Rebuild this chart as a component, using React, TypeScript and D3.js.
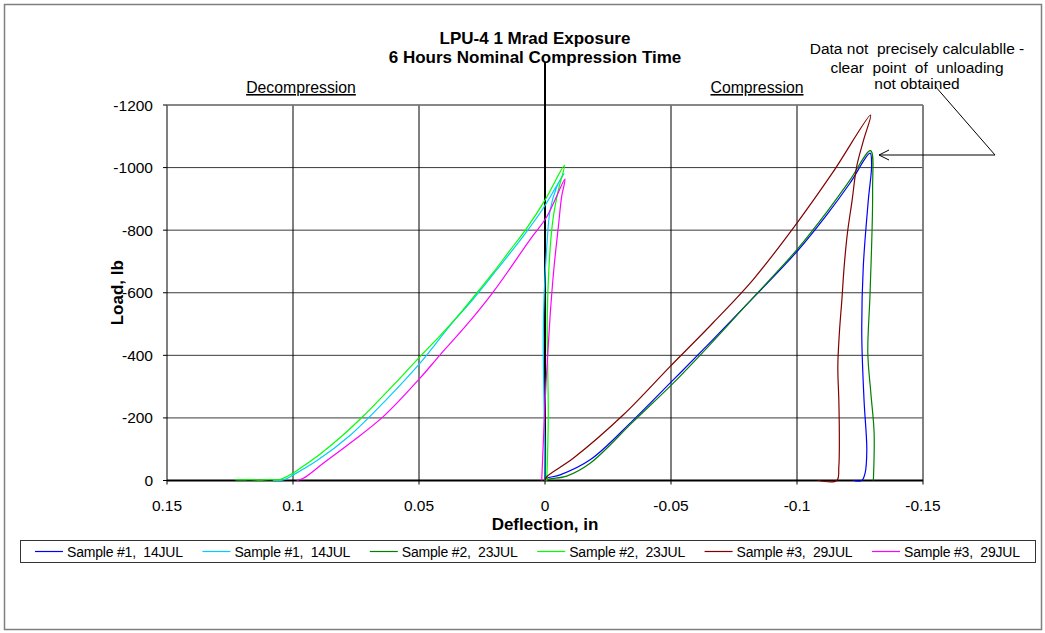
import React from "react";
import * as d3 from "d3";

type Pt = [number, number];

// Deflection (in) vs load (lb) for each test run
const sample1Comp: Pt[] = [
  [0, 0], [-0.0007, -7], [-0.006, -18], [-0.0179, -66], [-0.035, -193], [-0.0496, -311],
  [-0.0642, -430], [-0.08, -562], [-0.0999, -731], [-0.1118, -849], [-0.121, -950], [-0.129, -1046],
  [-0.1296, -1008], [-0.1283, -896], [-0.1263, -683], [-0.1257, -470], [-0.1266, -257],
  [-0.1277, -97], [-0.127, -23], [-0.1257, 0], [-0.1222, 0],
];
const sample1Decomp: Pt[] = [
  [0, 0], [0.0003, -200], [0.0007, -450], [0.0003, -600], [-0.0007, -745], [-0.002, -862],
  [-0.0046, -937], [-0.0075, -981], [0.0007, -870], [0.0086, -781], [0.0192, -673], [0.0285, -580],
  [0.0377, -495], [0.0496, -375], [0.0642, -248], [0.0774, -144], [0.0906, -63], [0.0999, -18],
  [0.1038, -2], [0.108, -1],
];
const sample2Comp: Pt[] = [
  [0, 0], [-0.002, -5], [-0.0086, -14], [-0.0179, -55], [-0.035, -188], [-0.0509, -311],
  [-0.0642, -423], [-0.08, -562], [-0.0999, -737], [-0.1118, -858], [-0.121, -960], [-0.1292, -1054],
  [-0.13, -928], [-0.129, -600], [-0.1281, -408], [-0.1293, -280], [-0.1306, -152], [-0.1303, 0],
];
const sample2Decomp: Pt[] = [
  [-0.0007, 0], [-0.0013, -204], [-0.0009, -523], [-0.002, -737], [-0.0033, -843], [-0.0053, -928],
  [-0.0077, -1007], [0, -896], [0.0073, -806], [0.0146, -728], [0.0205, -665], [0.0265, -605],
  [0.0331, -540], [0.0417, -462], [0.0496, -396], [0.0575, -327], [0.0655, -260], [0.0721, -206],
  [0.08, -146], [0.0893, -84], [0.0959, -46], [0.0999, -24], [0.1052, -3], [0.11, -3], [0.113, -1],
  [0.117, -3], [0.119, -2], [0.123, -3],
];
const sample3Comp: Pt[] = [
  [0, 0], [-0.0007, -12], [-0.0112, -71], [-0.0311, -210], [-0.0496, -364], [-0.0668, -505],
  [-0.0827, -643], [-0.0999, -822], [-0.1144, -987], [-0.1292, -1168], [-0.1265, -1090],
  [-0.1237, -1004], [-0.1219, -897], [-0.12, -790], [-0.1187, -682], [-0.1178, -577], [-0.1168, -470],
  [-0.1162, -364], [-0.1166, -257], [-0.1168, -150], [-0.1166, -44], [-0.1158, 0], [-0.1083, 0],
];
const sample3Decomp: Pt[] = [
  [0.0013, 0], [-0.0004, -312], [-0.002, -523], [-0.0036, -683], [-0.0053, -811], [-0.0066, -907],
  [-0.0079, -963], [-0.0007, -843], [0.006, -769], [0.0205, -603], [0.0311, -497], [0.0417, -401],
  [0.0496, -327], [0.0642, -204], [0.0774, -119], [0.088, -55], [0.0959, -7], [0.0985, 0],
];

const seriesNames = [
  "Sample #1,  14JUL", "Sample #1,  14JUL", "Sample #2,  23JUL",
  "Sample #2,  23JUL", "Sample #3,  29JUL", "Sample #3,  29JUL",
];
const seriesColors = ["#0000FF", "#00CCFF", "#008000", "#00FF00", "#800000", "#FF00FF"];
const seriesData = [sample1Comp, sample1Decomp, sample2Comp, sample2Decomp, sample3Comp, sample3Decomp];

const xTicks = [0.15, 0.1, 0.05, 0, -0.05, -0.1, -0.15];
const xTickLabels = ["0.15", "0.1", "0.05", "0", "-0.05", "-0.1", "-0.15"];
const yTicks = [0, -200, -400, -600, -800, -1000, -1200];
const yTickLabels = ["0", "-200", "-400", "-600", "-800", "-1000", "-1200"];

const titleLines = ["LPU-4 1 Mrad Exposure", "6 Hours Nominal Compression Time"];
const noteLines = ["Data not  precisely calculablle -", "clear  point  of  unloading", "not obtained"];

const FONT = "'Liberation Sans', Arial, sans-serif";

export default function App() {
  const W = 1045;
  const H = 633;
  const left = 167, right = 923, top = 105, bottom = 480.5;
  const x = d3.scaleLinear().domain([0.15, -0.15]).range([left, right]);
  const y = d3.scaleLinear().domain([0, -1200]).range([bottom, top]);
  const line = d3
    .line<Pt>()
    .x((d) => x(d[0]))
    .y((d) => y(d[1]))
    .curve(d3.curveCatmullRom.alpha(0.5));

  const legendX0 = 35;
  const legendStep = 167.4;

  return (
    <svg
      width={W}
      height={H}
      style={{ position: "absolute", left: 0, top: 0, background: "#fff" }}
      fontFamily={FONT}
    >
      <rect x={0} y={0} width={W} height={H} fill="#fff" />
      <rect x={4.5} y={4.5} width={1037} height={625} fill="none" stroke="#7f7f7f" strokeWidth={1.5} />

      {/* title */}
      {titleLines.map((t, i) => (
        <text key={t} x={535} y={43.7 + i * 19} textAnchor="middle" fontWeight="bold" fontSize={17}>
          {t}
        </text>
      ))}

      {/* gridlines */}
      {yTicks.map((v) => (
        <line key={"gy" + v} x1={left} x2={right} y1={y(v)} y2={y(v)} stroke="#3a3a3a" strokeWidth={1} />
      ))}
      {xTicks.map((v) => (
        <line key={"gx" + v} x1={x(v)} x2={x(v)} y1={top} y2={bottom} stroke="#000" strokeWidth={1} />
      ))}
      <line x1={left} x2={right} y1={top} y2={top} stroke="#808080" strokeWidth={1.5} />
      <line x1={right} x2={right} y1={top} y2={bottom} stroke="#808080" strokeWidth={1.5} />

      {/* y ticks and labels */}
      {yTicks.map((v, i) => (
        <g key={"ty" + v}>
          <line x1={left - 4} x2={left} y1={y(v)} y2={y(v)} stroke="#000" />
          <text x={153} y={y(v) + 5.5} textAnchor="end" fontSize={15.5}>
            {yTickLabels[i]}
          </text>
        </g>
      ))}
      {/* x ticks and labels */}
      {xTicks.map((v, i) => (
        <g key={"tx" + v}>
          <line x1={x(v)} x2={x(v)} y1={bottom} y2={bottom + 4} stroke="#000" />
          <text x={x(v)} y={511} textAnchor="middle" fontSize={15.5}>
            {xTickLabels[i]}
          </text>
        </g>
      ))}

      {/* axis lines */}
      <line x1={left} x2={right} y1={bottom} y2={bottom} stroke="#000" strokeWidth={2} />
      <line x1={x(0)} x2={x(0)} y1={62} y2={bottom} stroke="#000" strokeWidth={2} />

      {/* data */}
      {seriesData.map((d, i) => (
        <path key={"s" + i} d={line(d) || ""} fill="none" stroke={seriesColors[i]} strokeWidth={1.2} />
      ))}

      {/* region labels */}
      <text x={301} y={93} textAnchor="middle" fontSize={15.8} textDecoration="underline">
        Decompression
      </text>
      <text x={757} y={93} textAnchor="middle" fontSize={15.8} textDecoration="underline">
        Compression
      </text>

      {/* axis titles */}
      <text x={545} y={530} textAnchor="middle" fontWeight="bold" fontSize={17}>
        Deflection, in
      </text>
      <text
        transform={`translate(123, ${(top + bottom) / 2}) rotate(-90)`}
        textAnchor="middle"
        fontWeight="bold"
        fontSize={17}
      >
        Load, lb
      </text>

      {/* annotation */}
      {noteLines.map((t, i) => (
        <text
          key={t}
          x={917}
          y={[54, 73, 89][i]}
          textAnchor="middle"
          fontSize={15.5}
          style={{ whiteSpace: "pre" }}
        >
          {t}
        </text>
      ))}
      <polyline points="935,86 995,155 879,155" fill="none" stroke="#000" strokeWidth={1} />
      <polyline points="889,150 879,155 889,160" fill="none" stroke="#000" strokeWidth={1} />

      {/* legend */}
      <rect x={20.5} y={540.5} width={1015} height={22} fill="#fff" stroke="#333" strokeWidth={1} />
      {seriesNames.map((n, i) => {
        const lx = legendX0 + i * legendStep;
        return (
          <g key={"lg" + i}>
            <line x1={lx} x2={lx + 28} y1={551.5} y2={551.5} stroke={seriesColors[i]} strokeWidth={1.2} />
            <text
              x={lx + 32}
              y={556.5}
              fontSize={14}
              textLength={116}
              lengthAdjust="spacing"
              style={{ whiteSpace: "pre" }}
            >
              {n}
            </text>
          </g>
        );
      })}
    </svg>
  );
}
